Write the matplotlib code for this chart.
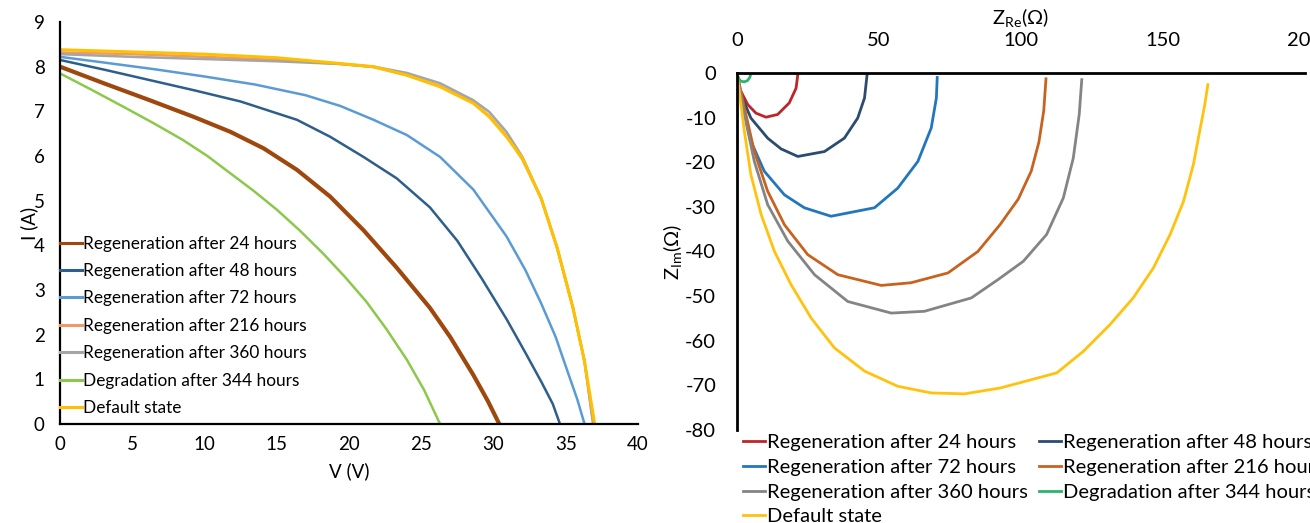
import matplotlib
matplotlib.use("Agg")
import matplotlib.pyplot as plt


# =========================
# DATA
# =========================
iv_labels = [
    "Regeneration after 24 hours",
    "Regeneration after 48 hours",
    "Regeneration after 72 hours",
    "Regeneration after 216 hours",
    "Regeneration after 360 hours",
    "Degradation after 344 hours",
    "Default state",
]

# I-V curves: voltage (V) and current (A)
v_24 = [0, 3.1, 6.2, 9.3, 11.8, 14.1, 16.4, 18.7, 21.0, 23.3, 25.6, 27.0, 28.6, 29.6, 30.4]
i_24 = [8.0, 7.62, 7.25, 6.87, 6.54, 6.17, 5.69, 5.09, 4.34, 3.5, 2.6, 1.95, 1.1, 0.52, 0.0]
v_48 = [0, 3.1, 6.2, 9.3, 12.5, 16.4, 18.7, 21.0, 23.3, 25.6, 27.5, 29.2, 30.9, 32.2, 33.3, 34.1, 34.6]
i_48 = [8.15, 7.93, 7.7, 7.47, 7.22, 6.81, 6.43, 5.98, 5.5, 4.85, 4.1, 3.25, 2.35, 1.6, 0.95, 0.45, 0.0]
v_72 = [0, 3.1, 6.6, 10.0, 13.5, 17.0, 19.4, 21.7, 24.0, 26.3, 28.6, 30.9, 32.2, 33.3, 34.3, 35.1, 35.8, 36.3]
i_72 = [8.22, 8.09, 7.94, 7.78, 7.6, 7.36, 7.12, 6.81, 6.47, 5.98, 5.25, 4.2, 3.45, 2.7, 1.95, 1.2, 0.55, 0.0]
v_216 = [0, 5, 10, 15, 19.4, 21.7, 24.0, 26.3, 28.6, 29.7, 30.9, 32.0, 33.3, 34.4, 35.5, 36.3, 36.9]
i_216 = [8.32, 8.28, 8.22, 8.15, 8.06, 7.99, 7.81, 7.57, 7.2, 6.9, 6.45, 5.92, 5.05, 3.95, 2.6, 1.4, 0.0]
v_360 = [0, 5, 10, 15, 19.4, 21.7, 24.0, 26.3, 28.6, 29.7, 30.9, 32.0, 33.3, 34.4, 35.5, 36.3, 36.9]
i_360 = [8.28, 8.22, 8.17, 8.12, 8.06, 8.0, 7.86, 7.63, 7.25, 6.99, 6.54, 5.98, 5.05, 3.95, 2.6, 1.4, 0.0]
v_deg = [0, 2.2, 4.4, 6.5, 8.5, 10.2, 11.8, 13.4, 15.0, 16.6, 18.2, 19.7, 21.2, 22.6, 24.0, 25.2, 26.3]
i_deg = [7.85, 7.48, 7.1, 6.73, 6.36, 6.0, 5.61, 5.22, 4.8, 4.33, 3.82, 3.3, 2.74, 2.12, 1.44, 0.76, 0.0]
v_def = [0, 5, 10, 15, 19.4, 21.7, 24.0, 26.3, 28.6, 29.7, 30.9, 32.0, 33.3, 34.4, 35.5, 36.3, 37.0]
i_def = [8.38, 8.33, 8.28, 8.2, 8.07, 8.0, 7.81, 7.55, 7.18, 6.88, 6.43, 5.95, 5.05, 3.95, 2.6, 1.4, 0.0]

iv_v = [v_24, v_48, v_72, v_216, v_360, v_deg, v_def]
iv_i = [i_24, i_48, i_72, i_216, i_360, i_deg, i_def]

# Nyquist curves: Z_Re and Z_Im (Ohm)
re_24 = [0, 0.8, 3.8, 6.7, 10.2, 14.3, 18.4, 20.8, 21.4]
im_24 = [0, -3.4, -7.1, -9.0, -9.9, -9.3, -6.7, -3.4, -0.4]
re_48 = [0, 1.4, 4.9, 10.8, 15.5, 21.4, 30.8, 37.8, 42.5, 44.9, 45.8]
im_48 = [0, -4.9, -10.1, -14.6, -17.0, -18.7, -17.6, -14.6, -10.1, -5.6, -0.4]
re_72 = [0, 1.4, 4.9, 9.6, 16.7, 23.7, 33.1, 48.4, 56.6, 63.7, 68.4, 70.2, 70.5]
im_72 = [0, -5.6, -15.3, -22.0, -27.3, -30.2, -32.1, -30.2, -25.8, -19.8, -12.3, -5.6, -1.0]
re_216 = [0, 2.6, 6.1, 10.8, 16.7, 24.9, 35.5, 50.8, 61.3, 74.3, 84.8, 92.6, 99.0, 103.6, 106.3, 108.0, 108.8]
im_216 = [0, -7.8, -17.6, -26.5, -34.0, -40.7, -45.2, -47.6, -47.0, -44.8, -40.0, -34.0, -28.3, -22.0, -15.5, -8.5, -1.3]
re_360 = [0, 2.6, 6.1, 10.8, 17.9, 27.3, 39.0, 54.3, 66.0, 82.5, 91.9, 100.8, 109.0, 114.9, 118.4, 120.5, 121.4]
im_360 = [0, -9.3, -19.8, -29.5, -37.7, -45.2, -51.2, -53.8, -53.4, -50.4, -46.3, -42.2, -36.2, -28.0, -19.1, -9.3, -1.5]
re_deg = [0, 0.5, 1.3, 2.5, 3.7, 4.5, 4.9]
im_deg = [0, -1.2, -1.8, -2.0, -1.7, -1.0, -0.1]
re_def = [0, 2.6, 4.9, 8.5, 13.2, 19.0, 26.1, 34.3, 44.9, 56.6, 68.4, 80.1, 92.6, 112.6, 121.9, 131.3,
          139.5, 146.6, 152.5, 157.2, 160.7, 162.9, 164.6, 165.8]
im_def = [0, -13.1, -22.8, -31.7, -40.0, -47.4, -54.9, -61.6, -66.8, -70.2, -71.7, -71.9, -70.6, -67.2, -62.4, -56.4,
          -50.4, -43.7, -36.2, -28.8, -20.5, -13.1, -7.5, -2.6]

nyq_re = [re_24, re_48, re_72, re_216, re_360, re_deg, re_def]
nyq_im = [im_24, im_48, im_72, im_216, im_360, im_deg, im_def]

iv_xticks = [0, 5, 10, 15, 20, 25, 30, 35, 40]
iv_yticks = [0, 1, 2, 3, 4, 5, 6, 7, 8, 9]
nyq_xticks = [0, 50, 100, 150, 200]
nyq_yticks = [0, -10, -20, -30, -40, -50, -60, -70, -80]


# =========================
# STYLE
# =========================
plt.rcParams["font.family"] = ["Lato", "DejaVu Sans"]
plt.rcParams["mathtext.fontset"] = "custom"
plt.rcParams["mathtext.rm"] = "Lato"
plt.rcParams["mathtext.it"] = "Lato:italic"
plt.rcParams["axes.unicode_minus"] = False

iv_colors = ["#9E480E", "#2E5E8C", "#5B9BD5", "#EE9A66", "#A5A5A5", "#8CC84B", "#FFC000"]
iv_widths = [3.0, 1.8, 1.8, 1.8, 1.8, 1.8, 2.2]
nyq_colors = ["#C0232A", "#2B4C6F", "#2277BC", "#C8621F", "#848484", "#2DB36E", "#FFC20E"]


fig = plt.figure(figsize=(13.1, 5.23), dpi=100)

# =========================
# LEFT: I-V
# =========================
ax1 = fig.add_axes([60 / 1310, 1 - 424 / 523, 578 / 1310, 402 / 523])
for v, i, c, w, lab in zip(iv_v, iv_i, iv_colors, iv_widths, iv_labels):
    ax1.plot(v, i, color=c, lw=w, label=lab, solid_joinstyle="round")

ax1.set_xlim(0, 40)
ax1.set_ylim(0, 9)
ax1.set_xticks(iv_xticks)
ax1.set_yticks(iv_yticks)
ax1.tick_params(length=0, labelsize=13.5, pad=11)
ax1.tick_params(axis="x", pad=9)
for s in ["top", "right"]:
    ax1.spines[s].set_visible(False)
for s in ["left", "bottom"]:
    ax1.spines[s].set_linewidth(1.6)
ax1.set_xlabel("V (V)", fontsize=13.5, labelpad=6)
ax1.set_ylabel("I (A)", fontsize=13.5, labelpad=-3)

leg1 = ax1.legend(loc="lower left", bbox_to_anchor=(0.0, 0.02), frameon=False,
                  fontsize=12.4, handlelength=1.3, handletextpad=0.05,
                  labelspacing=0.66, borderpad=0, borderaxespad=0)
for ln in leg1.get_lines():
    ln.set_linewidth(2.2)

# =========================
# RIGHT: Nyquist
# =========================
ax2 = fig.add_axes([737 / 1310, 1 - 430 / 523, 568 / 1310, 357 / 523])
for x, y, c, lab in zip(nyq_re, nyq_im, nyq_colors, iv_labels):
    ax2.plot(x, y, color=c, lw=2.0, label=lab, solid_joinstyle="round")

ax2.set_xlim(0, 200)
ax2.set_ylim(-80, 0)
ax2.set_xticks(nyq_xticks)
ax2.set_yticks(nyq_yticks)
ax2.xaxis.tick_top()
ax2.xaxis.set_label_position("top")
ax2.tick_params(length=0, labelsize=14.5)
ax2.tick_params(axis="y", pad=15)
ax2.tick_params(axis="x", pad=17)
for s in ["bottom", "right"]:
    ax2.spines[s].set_visible(False)
for s in ["left", "top"]:
    ax2.spines[s].set_linewidth(2.0)
ax2.set_xlabel(r"Z$_{\mathrm{Re}}$(Ω)", fontsize=14.5, labelpad=6)
ax2.set_ylabel(r"Z$_{\mathrm{Im}}$(Ω)", fontsize=14.5, labelpad=1)

# legend is filled row by row in the picture: reorder for column-first filling
h, l = ax2.get_legend_handles_labels()
order = [0, 2, 4, 6, 1, 3, 5]
fig.legend([h[k] for k in order], [l[k] for k in order], loc="upper left",
           bbox_to_anchor=(743 / 1310, 1 - 434 / 523), ncol=2, frameon=False,
           fontsize=14.5, handlelength=1.1, handletextpad=0.1,
           labelspacing=0.38, columnspacing=0.55, borderpad=0, borderaxespad=0)

fig.savefig("out.png", dpi=100)
